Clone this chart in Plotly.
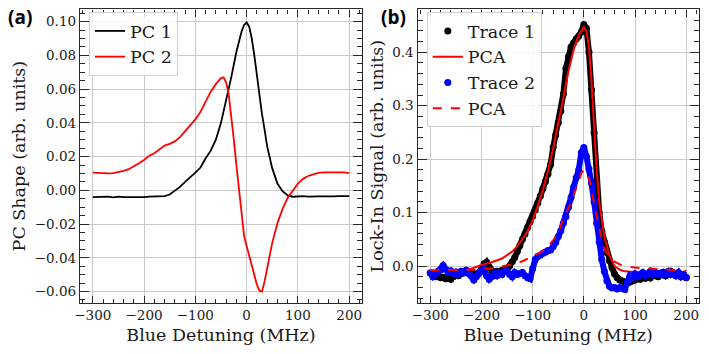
import plotly.graph_objects as go

# ---- panel (a): principal component shapes ----
pc1_x = [-300, -290, -280, -270, -260, -250, -240, -230, -220, -210, -200, -190, -180, -170, -160,
         -150, -140, -130, -120, -110, -100, -90, -80, -70, -60, -50, -40, -30, -20, -10, -5, 0,
         5, 10, 15, 20, 25, 30, 35, 40, 50, 60, 70, 80, 90, 100, 110, 120, 130, 140, 150, 160,
         170, 180, 190, 200]
pc1_y = [-0.0040, -0.0038, -0.0040, -0.0037, -0.0042, -0.0038, -0.0040, -0.0041, -0.0040, -0.0040,
         -0.0040, -0.0038, -0.0037, -0.0036, -0.0034, -0.0025, -0.0005, 0.0020, 0.0050, 0.0075,
         0.0105, 0.0135, 0.0190, 0.0235, 0.0300, 0.0400, 0.0530, 0.0670, 0.0820, 0.0940, 0.0980,
         0.0995, 0.0970, 0.0900, 0.0800, 0.0680, 0.0560, 0.0450, 0.0360, 0.0260, 0.0130, 0.0040,
         -0.0005, -0.0030, -0.0038, -0.0036, -0.0035, -0.0037, -0.0035, -0.0036, -0.0036, -0.0034,
         -0.0036, -0.0035, -0.0034, -0.0035]

pc2_x = [-300, -290, -280, -270, -260, -250, -240, -230, -220, -210, -200, -190, -180, -170, -160,
         -150, -140, -130, -120, -110, -100, -90, -80, -70, -60, -50, -45, -40, -35, -30, -25, -20,
         -15, -10, -5, 0, 5, 10, 15, 20, 25, 30, 35, 40, 50, 60, 70, 80, 90, 100, 110, 120, 130,
         140, 150, 160, 170, 180, 190, 200]
pc2_y = [0.0105, 0.0103, 0.0104, 0.0100, 0.0102, 0.0108, 0.0115, 0.0125, 0.0140, 0.0160, 0.0180,
         0.0205, 0.0220, 0.0245, 0.0265, 0.0275, 0.0290, 0.0315, 0.0350, 0.0385, 0.0420, 0.0465,
         0.0525, 0.0585, 0.0630, 0.0665, 0.0670, 0.0640, 0.0570, 0.0450, 0.0300, 0.0150, 0.0000,
         -0.0150, -0.0270, -0.0330, -0.0385, -0.0450, -0.0510, -0.0560, -0.0595, -0.0600, -0.0540,
         -0.0460, -0.0310, -0.0195, -0.0110, -0.0045, 0.0000, 0.0040, 0.0068, 0.0085, 0.0095,
         0.0103, 0.0106, 0.0106, 0.0108, 0.0104, 0.0106, 0.0102]

# ---- panel (b): lock-in traces and PCA reconstructions ----
trace_x = list(range(-300, 205, 5))
trace1_y = [-0.013, -0.017, -0.020, -0.019, -0.022, -0.021, -0.024, -0.022, -0.025, -0.020,
            -0.016, -0.018, -0.014, -0.011, -0.008, -0.012, -0.016, -0.014, -0.017, -0.012,
            -0.006, 0.004, 0.007, -0.002, -0.009, -0.012, -0.010, -0.013, -0.008, -0.010,
            -0.005, 0.000, 0.008, 0.016, 0.027, 0.038, 0.050, 0.060, 0.072, 0.083,
            0.093, 0.105, 0.118, 0.131, 0.145, 0.158, 0.172, 0.190, 0.222, 0.245,
            0.268, 0.290, 0.322, 0.370, 0.392, 0.410, 0.418, 0.425, 0.430, 0.438,
            0.452, 0.445, 0.400, 0.330, 0.250, 0.160, 0.100, 0.065, 0.045, 0.025,
            0.010, -0.003, -0.015, -0.022, -0.026, -0.028, -0.030, -0.032, -0.030, -0.028,
            -0.026, -0.022, -0.025, -0.020, -0.023, -0.018, -0.022, -0.015, -0.018, -0.020,
            -0.016, -0.012, -0.018, -0.015, -0.010, -0.014, -0.018, -0.016, -0.020, -0.018,
            -0.022]
trace2_y = [-0.013, -0.020, -0.016, -0.010, -0.008, 0.001, -0.006, -0.012, -0.009, -0.014,
            -0.011, -0.015, -0.010, -0.013, -0.009, -0.014, -0.018, -0.026, -0.020, -0.014,
            -0.008, -0.006, -0.018, -0.025, -0.020, -0.014, -0.018, -0.012, -0.016, -0.010,
            -0.009, -0.016, -0.020, -0.012, -0.016, -0.014, -0.012, -0.018, -0.022, -0.024,
            -0.005, 0.012, 0.018, 0.020, 0.024, 0.026, 0.029, 0.030, 0.036, 0.044,
            0.055, 0.066, 0.080, 0.092, 0.110, 0.128, 0.148, 0.165, 0.180, 0.212,
            0.222, 0.205, 0.182, 0.155, 0.120, 0.080, 0.045, 0.012, -0.010, -0.028,
            -0.038, -0.041, -0.040, -0.043, -0.040, -0.042, -0.044, -0.030, -0.018, -0.022,
            -0.015, -0.020, -0.016, -0.012, -0.018, -0.014, -0.010, -0.016, -0.012, -0.015,
            -0.013, -0.017, -0.014, -0.010, -0.016, -0.013, -0.018, -0.012, -0.020, -0.016,
            -0.021]

pca1_x = [-300, -280, -260, -240, -220, -200, -180, -160, -140, -130, -120, -110, -100, -90, -80,
          -70, -60, -50, -40, -30, -20, -10, 0, 5, 10, 15, 20, 25, 30, 40, 50, 60, 70, 80, 100,
          120, 150, 200]
pca1_y = [-0.010, -0.010, -0.009, -0.008, -0.005, 0.002, 0.007, 0.014, 0.027, 0.037, 0.050, 0.065,
          0.086, 0.112, 0.143, 0.178, 0.220, 0.265, 0.315, 0.365, 0.405, 0.432, 0.447, 0.440,
          0.410, 0.345, 0.260, 0.180, 0.120, 0.055, 0.020, 0.000, -0.007, -0.010, -0.011,
          -0.011, -0.011, -0.012]

pca2_x = [-300, -260, -220, -180, -160, -140, -130, -120, -100, -80, -70, -60, -50, -40, -30, -20,
          -10, -5, 0, 5, 10, 20, 25, 30, 40, 50, 60, 70, 80, 100, 150, 200]
pca2_y = [-0.008, -0.008, -0.007, -0.004, -0.001, 0.003, 0.006, 0.009, 0.018, 0.028, 0.037, 0.048,
          0.062, 0.088, 0.108, 0.132, 0.158, 0.174, 0.179, 0.178, 0.165, 0.118, 0.093, 0.070,
          0.032, 0.016, 0.008, 0.003, 0.000, -0.003, -0.006, -0.009]

left_yticks = [-0.06, -0.04, -0.02, 0.00, 0.02, 0.04, 0.06, 0.08, 0.10]
right_yticks = [0.0, 0.1, 0.2, 0.3, 0.4]
xticks = [-300, -200, -100, 0, 100, 200]

SERIF = "DejaVu Serif"
AXIS_COLOR = "#2a2a2a"
GRID_COLOR = "#c8c8c8"
TEXT_COLOR = "#1a1a1a"

fig = go.Figure()

fig.add_trace(go.Scatter(x=pc1_x, y=pc1_y, name="PC 1", mode="lines",
                         line=dict(color="black", width=1.8), xaxis="x", yaxis="y", legend="legend"))
fig.add_trace(go.Scatter(x=pc2_x, y=pc2_y, name="PC 2", mode="lines",
                         line=dict(color="red", width=1.8), xaxis="x", yaxis="y", legend="legend"))

fig.add_trace(go.Scatter(x=trace_x, y=trace1_y, mode="lines+markers", showlegend=False,
                         line=dict(color="black", width=6), marker=dict(color="black", size=7),
                         xaxis="x2", yaxis="y2"))
fig.add_trace(go.Scatter(x=[None], y=[None], name="Trace 1", mode="markers",
                         marker=dict(color="black", size=7), xaxis="x2", yaxis="y2", legend="legend2"))
fig.add_trace(go.Scatter(x=pca1_x, y=pca1_y, name="PCA", mode="lines",
                         line=dict(color="red", width=2), xaxis="x2", yaxis="y2", legend="legend2"))
fig.add_trace(go.Scatter(x=trace_x, y=trace2_y, mode="lines+markers", showlegend=False,
                         line=dict(color="blue", width=6), marker=dict(color="blue", size=7),
                         xaxis="x2", yaxis="y2"))
fig.add_trace(go.Scatter(x=[None], y=[None], name="Trace 2", mode="markers",
                         marker=dict(color="blue", size=7), xaxis="x2", yaxis="y2", legend="legend2"))
fig.add_trace(go.Scatter(x=pca2_x, y=pca2_y, name="PCA", mode="lines",
                         line=dict(color="red", width=2, dash="dash"), xaxis="x2", yaxis="y2",
                         legend="legend2"))


def axis_style(major_len, **kw):
    base = dict(
        showline=True, linecolor=AXIS_COLOR, linewidth=1.4, mirror="ticks",
        ticks="inside", ticklen=major_len, tickwidth=1.3, tickcolor=AXIS_COLOR,
        showgrid=True, gridcolor=GRID_COLOR, gridwidth=1, zeroline=False,
        tickfont=dict(family=SERIF, size=13.5, color=TEXT_COLOR),
        title_font=dict(family=SERIF, size=17.5, color=TEXT_COLOR),
        automargin=False,
    )
    base.update(kw)
    return base


def minor(step, length):
    return dict(dtick=step, tick0=0, ticklen=length, tickwidth=1, tickcolor=AXIS_COLOR,
                ticks="inside", showgrid=False)


def legend_box(x, width):
    return dict(x=x, y=0.966, xanchor="left", yanchor="top",
                entrywidth=width, entrywidthmode="pixels",
                bgcolor="rgba(255,255,255,0.85)", bordercolor="#d0d0d0", borderwidth=1,
                font=dict(family=SERIF, size=17.5, color=TEXT_COLOR))


fig.update_layout(
    width=709, height=354, autosize=False,
    margin=dict(l=0, r=0, t=0, b=0),
    paper_bgcolor="white", plot_bgcolor="white",
    font=dict(family=SERIF, color=TEXT_COLOR),
    xaxis=axis_style(7, domain=[0.1128, 0.5106], range=[-325, 225], tickvals=xticks,
                     minor=minor(20, 4), title=dict(text="Blue Detuning (MHz)", standoff=6)),
    yaxis=axis_style(9, domain=[0.1441, 0.9737], range=[-0.0668, 0.1073], tickvals=left_yticks,
                     tickformat=".2f", minor=minor(0.005, 5),
                     title=dict(text="PC Shape (arb. units)", standoff=4)),
    xaxis2=axis_style(7, domain=[0.5889, 0.9859], range=[-325, 225], tickvals=xticks, anchor="y2",
                      minor=minor(20, 4), title=dict(text="Blue Detuning (MHz)", standoff=6)),
    yaxis2=axis_style(9, domain=[0.1441, 0.9737], range=[-0.0692, 0.4804], tickvals=right_yticks,
                      tickformat=".1f", anchor="x2", minor=minor(0.02, 5),
                      title=dict(text="Lock-In Signal (arb. units)", standoff=4)),
    legend=legend_box(0.1255, 60),
    legend2=legend_box(0.602, 82),
    annotations=[
        dict(text="<b>(a)</b>", x=0.008, y=0.995, xref="paper", yref="paper", xanchor="left",
             yanchor="top", showarrow=False, font=dict(family="Open Sans", size=19, color="black")),
        dict(text="<b>(b)</b>", x=0.534, y=0.995, xref="paper", yref="paper", xanchor="left",
             yanchor="top", showarrow=False, font=dict(family="Open Sans", size=19, color="black")),
    ],
)

# the page's default body margin would shift the figure; drop it
fig.write_html("out.html", config={"displayModeBar": False},
               post_script="document.body.style.margin = '0';")
